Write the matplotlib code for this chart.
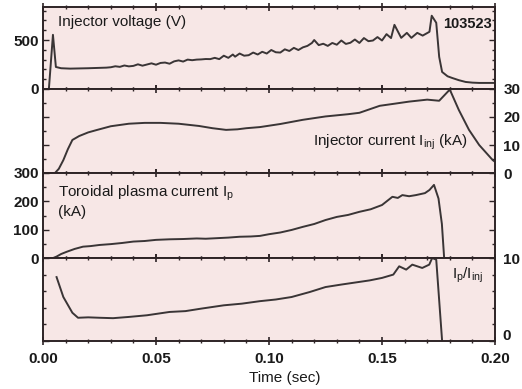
import matplotlib
matplotlib.use("Agg")
import matplotlib.pyplot as plt
from matplotlib.ticker import MultipleLocator, FixedLocator

plt.rcParams['font.family'] = ['Liberation Sans', 'DejaVu Sans']
plt.rcParams['mathtext.fontset'] = 'custom'
plt.rcParams['mathtext.rm'] = 'Liberation Sans'
plt.rcParams['mathtext.it'] = 'Liberation Sans'

# ---------------- data ----------------
t_volt = [0.0026, 0.0044, 0.0057, 0.008, 0.012, 0.016, 0.020, 0.024, 0.028,
          0.030, 0.032, 0.034, 0.036, 0.038, 0.040, 0.042, 0.044, 0.046, 0.048,
          0.050, 0.052, 0.054, 0.056, 0.058, 0.060, 0.062, 0.064, 0.066, 0.068,
          0.070, 0.072, 0.074, 0.076, 0.078, 0.080, 0.082, 0.084, 0.085, 0.087,
          0.089, 0.091, 0.093, 0.095, 0.097, 0.099, 0.101, 0.103, 0.105, 0.107,
          0.109, 0.111, 0.113, 0.115, 0.117, 0.119, 0.120, 0.122, 0.124, 0.126,
          0.128, 0.130, 0.132, 0.134, 0.136, 0.138, 0.140, 0.142, 0.144, 0.146,
          0.148, 0.150, 0.152, 0.154, 0.1555, 0.1585, 0.161, 0.163, 0.1656, 0.168,
          0.171, 0.172, 0.174, 0.1753, 0.1766, 0.179, 0.181, 0.184, 0.187,
          0.190, 0.193, 0.200]
volt = [0, 553, 225, 212, 208, 210, 212, 215, 218,
        222, 232, 226, 240, 231, 236, 252, 238, 250, 262,
        248, 266, 270, 258, 282, 292, 280, 300, 294, 300,
        302, 306, 305, 318, 305, 340, 318, 352, 330, 362,
        340, 345, 372, 352, 380, 362, 398, 375, 372, 405,
        388, 420, 398, 425, 440, 470, 500, 448, 462, 440,
        470, 452, 495, 460, 472, 505, 470, 520, 488, 495,
        530, 495, 560, 520, 655, 522, 573, 522, 573, 545,
        584, 748, 676, 328, 174, 130, 113, 90, 72,
        65, 62, 62]

t_inj = [0.0053, 0.007, 0.009, 0.011, 0.013, 0.016, 0.020, 0.024, 0.030,
         0.038, 0.045, 0.052, 0.060, 0.069, 0.075, 0.081, 0.086, 0.090, 0.096,
         0.105, 0.115, 0.125, 0.135, 0.140, 0.149, 0.156, 0.162, 0.170,
         0.1753, 0.180, 0.184, 0.1885, 0.193, 0.199, 0.200]
i_inj = [0.0, 1.5, 4.6, 8.5, 11.8, 13.2, 14.5, 15.4, 16.7,
         17.6, 17.9, 17.9, 17.6, 16.8, 16.0, 15.4, 15.6, 16.0, 16.4,
         17.5, 19.0, 20.2, 21.0, 21.5, 24.0, 24.8, 25.5, 26.2,
         25.8, 29.8, 22.5, 15.4, 10.0, 4.6, 4.0]

t_ip = [0.0045, 0.006, 0.008, 0.0105, 0.014, 0.0177, 0.021, 0.025, 0.030,
        0.035, 0.040, 0.045, 0.050, 0.056, 0.062, 0.068, 0.072, 0.077, 0.082,
        0.087, 0.092, 0.096, 0.100, 0.105, 0.110, 0.115, 0.120, 0.125, 0.130,
        0.135, 0.140, 0.145, 0.150, 0.1546, 0.157, 0.159, 0.162, 0.165,
        0.169, 0.171, 0.173, 0.175, 0.1765, 0.1775]
ip = [0, 5, 14, 22, 32, 40, 42, 46, 49,
      53, 58, 60, 64, 66, 67, 69, 68, 70, 72,
      75, 76, 78, 84, 90, 99, 110, 120, 134, 145,
      152, 163, 172, 187, 216, 212, 222, 218, 222,
      229, 240, 258, 210, 120, 0]

t_ratio = [0.006, 0.009, 0.013, 0.0155, 0.020, 0.025, 0.031, 0.038, 0.046,
           0.056, 0.063, 0.070, 0.080, 0.088, 0.096, 0.103, 0.110, 0.118,
           0.125, 0.132, 0.1445, 0.150, 0.155, 0.1576, 0.1607, 0.1634, 0.1678,
           0.1709, 0.1722, 0.174, 0.1766]
ratio = [7.7, 5.3, 3.4, 2.8, 2.85, 2.8, 2.75, 2.9, 3.1,
         3.5, 3.6, 3.9, 4.3, 4.5, 4.8, 5.0, 5.3, 5.9,
         6.5, 6.8, 7.3, 7.6, 8.0, 9.0, 8.6, 9.2, 8.8,
         9.2, 10.0, 9.8, 0.0]

x_ticks = [0.00, 0.05, 0.10, 0.15, 0.20]
x_ticklabels = ['0.00', '0.05', '0.10', '0.15', '0.20']

# ---------------- layout ----------------
W, H = 522, 389
fig = plt.figure(figsize=(W / 100, H / 100), dpi=100)
fig.patch.set_facecolor('white')

left_px, right_px = 43, 495
bounds_px = [7, 89, 173, 258, 341]

def px_rect(top, bot):
    return [left_px / W, 1 - bot / H, (right_px - left_px) / W, (bot - top) / H]

axes = [fig.add_axes(px_rect(bounds_px[i], bounds_px[i + 1])) for i in range(4)]

bg = '#f7e7e6'
line_col = '#3a3536'
frame_col = '#2e2426'
txt_col = '#1a1a1a'
fs = 11

series = [(t_volt, volt, (0, 837)),
          (t_inj, i_inj, (0, 30)),
          (t_ip, ip, (0, 300)),
          (t_ratio, ratio, (0, 10))]

for ax, (tx, yy, yl) in zip(axes, series):
    ax.set_facecolor(bg)
    ax.plot(tx, yy, color=line_col, lw=1.4, solid_joinstyle='round')
    ax.set_xlim(0, 0.2)
    ax.set_ylim(*yl)
    for s in ax.spines.values():
        s.set_color(frame_col)
        s.set_linewidth(1.4)
    ax.xaxis.set_major_locator(FixedLocator(x_ticks))
    ax.xaxis.set_minor_locator(MultipleLocator(0.01))
    ax.tick_params(axis='x', which='both', direction='inout', top=True, bottom=True,
                   labelbottom=False, color=frame_col)
    ax.tick_params(axis='x', which='major', length=6, width=1.2)
    ax.tick_params(axis='x', which='minor', length=3.5, width=1.0)
    ax.tick_params(axis='y', which='both', direction='in', color=frame_col,
                   labelsize=fs, pad=3, labelcolor=txt_col)
    ax.tick_params(axis='y', which='major', length=4, width=1.0)
    ax.tick_params(axis='y', which='minor', length=2.5, width=1.0)

# panel 1: injector voltage
a = axes[0]
a.set_yticks([0, 500])
a.set_yticklabels(['0', '500'], fontweight='bold')
a.yaxis.set_minor_locator(MultipleLocator(100))
a.tick_params(axis='y', which='both', left=True, right=True, labelleft=True, labelright=False)

# panel 2: injector current (right labels)
a = axes[1]
a.set_yticks([0, 10, 20, 30])
a.set_yticklabels(['0', '10', '20', '30'], fontweight='bold')
a.yaxis.set_minor_locator(MultipleLocator(5))
a.tick_params(axis='y', which='both', left=True, right=True, labelleft=False,
              labelright=True, pad=6)

# panel 3: plasma current
a = axes[2]
a.set_yticks([0, 100, 200, 300])
a.set_yticklabels(['0', '100', '200', '300'], fontweight='bold')
a.yaxis.set_minor_locator(MultipleLocator(50))
a.tick_params(axis='y', which='both', left=True, right=True, labelleft=True, labelright=False)

# panel 4: ratio
a = axes[3]
a.set_yticks([0, 10])
a.set_yticklabels(['', '10'], fontweight='bold')
a.yaxis.set_minor_locator(MultipleLocator(2))
a.tick_params(axis='y', which='both', left=True, right=True, labelleft=False,
              labelright=True, pad=6)
a.tick_params(axis='x', labelbottom=True, labelsize=fs, pad=5, labelcolor=txt_col)
a.set_xticklabels(x_ticklabels, fontweight='bold')

# ---------------- text ----------------
def ftext(x, y, s, size=fs, **kw):
    fig.text(x / W, 1 - y / H, s, fontsize=size, color=txt_col, **kw)

ftext(58, 22, 'Injector voltage (V)', ha='left', va='center')
ftext(443, 24, '103523', size=10.5, ha='left', va='center', fontweight='bold')
ftext(468, 142, r'Injector current I$_{\rm inj}$ (kA)', ha='right', va='center')
ftext(58, 193, r'Toroidal plasma current I$_{\rm p}$', ha='left', va='center')
ftext(58, 212, '(kA)', ha='left', va='center')
ftext(452, 275, r'I$_{\rm p}$/I$_{\rm inj}$', ha='left', va='center')
ftext(502, 336, '0', ha='left', va='center', fontweight='bold')
ftext(285, 378, 'Time (sec)', ha='center', va='center')

fig.savefig('out.png', dpi=100, facecolor='white')
